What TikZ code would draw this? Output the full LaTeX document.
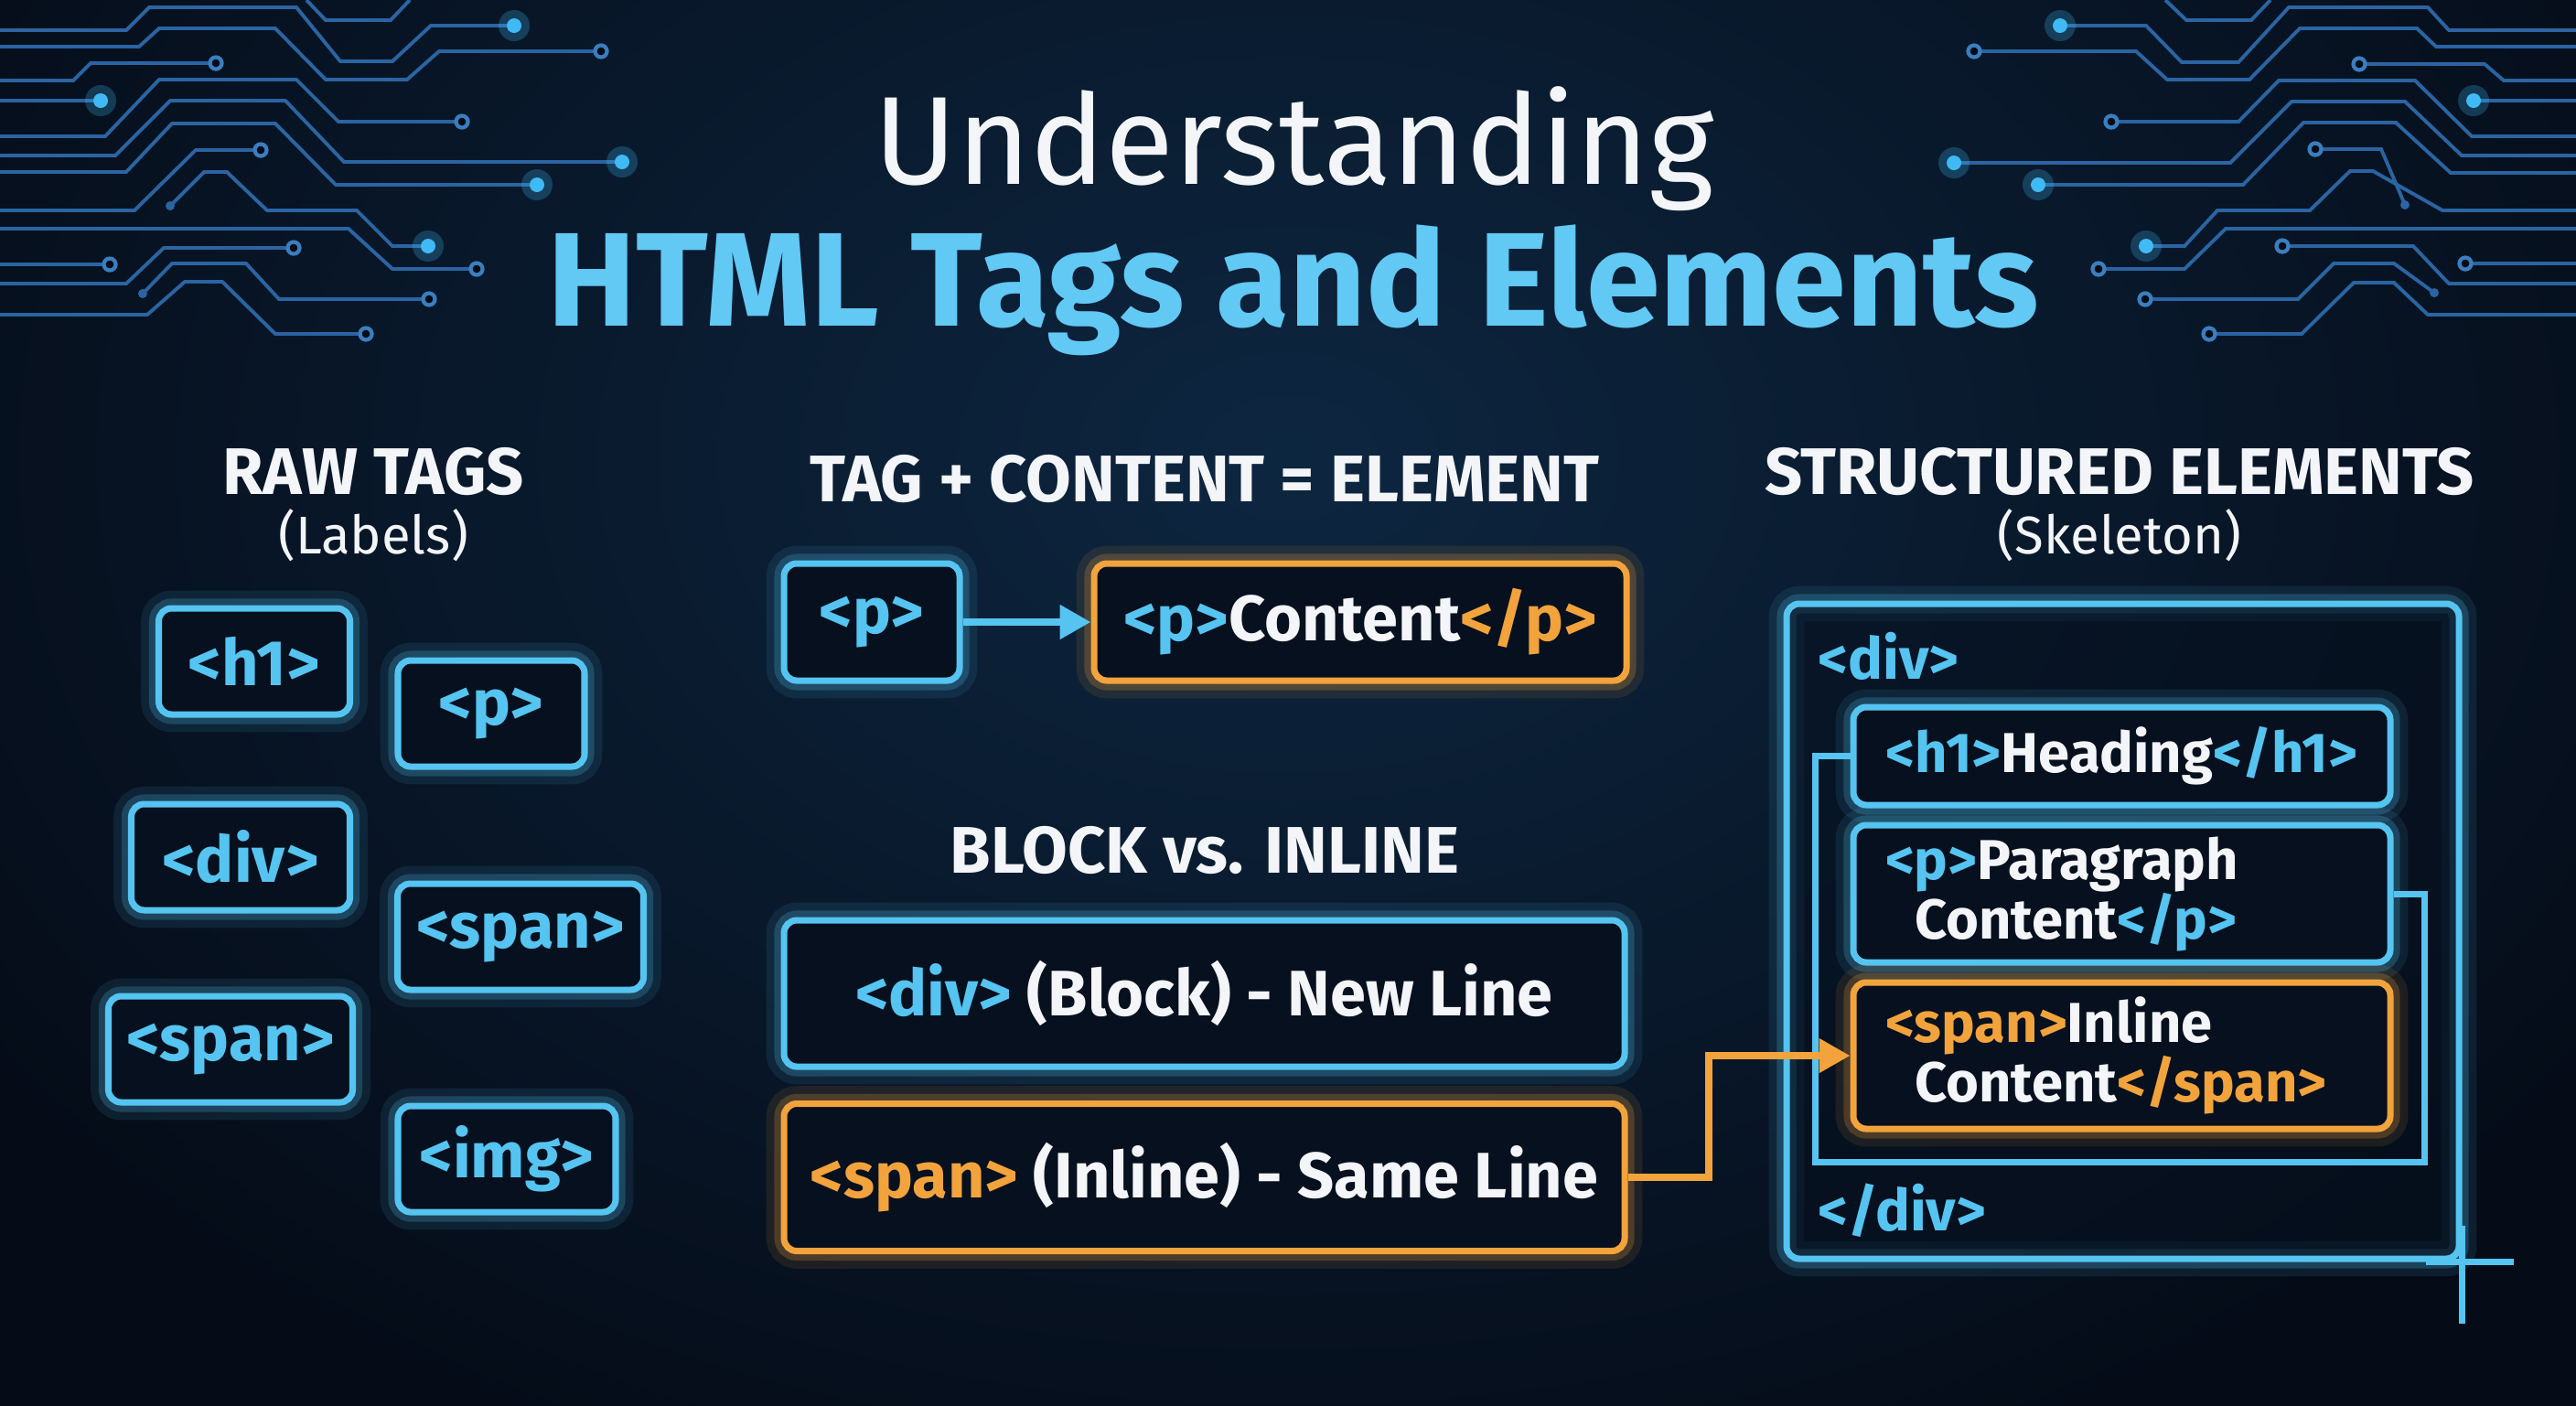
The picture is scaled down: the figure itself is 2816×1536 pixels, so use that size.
\documentclass[tikz,border=0pt]{standalone}
\usepackage{fontspec}
\setmainfont{Fira Sans}
\usetikzlibrary{arrows.meta}
\definecolor{night}{HTML}{050C18}
\definecolor{deep}{HTML}{0D2640}
\definecolor{boxbg}{HTML}{06101E}
\definecolor{trace}{HTML}{2A64A2}
\definecolor{ring}{HTML}{3A7EC0}
\definecolor{spark}{HTML}{3FBAF4}
\definecolor{tagblue}{HTML}{55C4F0}
\definecolor{titleblue}{HTML}{62C8F4}
\definecolor{tagorange}{HTML}{F2A33C}
\definecolor{ink}{HTML}{F3F5F8}
\newcommand\tagb[1]{\textcolor{tagblue}{#1}}
\newcommand\tago[1]{\textcolor{tagorange}{#1}}

\begin{document}
\begin{tikzpicture}[x=0.1mm, y=-0.1mm, >={Triangle[length=3.4mm, width=3.6mm]},
  trail/.style={draw=trace, line width=1.1pt},
  blueglow/.style={preaction={draw=tagblue, line width=11pt, opacity=0.10},
    preaction={draw=tagblue, line width=6pt, opacity=0.22}},
  warmglow/.style={preaction={draw=tagorange, line width=11pt, opacity=0.10},
    preaction={draw=tagorange, line width=6pt, opacity=0.22}},
  boxbase/.style={line width=2pt, rounded corners=1.4mm, fill=boxbg, text=ink,
    font=\bfseries\fontsize{20}{24}\selectfont},
  rawtag/.style={boxbase, blueglow, draw=tagblue, text=tagblue, minimum height=11.6mm},
  codebox/.style={boxbase, blueglow, draw=tagblue},
  warmbox/.style={boxbase, warmglow, draw=tagorange},
  nestbox/.style={boxbase, blueglow, draw=tagblue, inner xsep=3.5mm,
    font=\bfseries\fontsize{17.5}{18.5}\selectfont},
  warmnest/.style={boxbase, warmglow, draw=tagorange, inner xsep=3.5mm,
    font=\bfseries\fontsize{17.5}{18.5}\selectfont},
  heading/.style={text=ink, anchor=base, font=\bfseries\fontsize{20.5}{24}\selectfont},
  subheading/.style={text=ink, anchor=base, font=\fontsize{16.5}{20}\selectfont},
  tagtext/.style={text=tagblue, anchor=west, font=\bfseries\fontsize{18}{22}\selectfont},
  link/.style={draw=tagblue, line width=2pt},
  blueflow/.style={->, draw=tagblue, line width=2.3pt},
  warmflow/.style={->, draw=tagorange, line width=2.3pt}]

  \useasboundingbox (0,0) rectangle (2816,1536);
  % background
  \fill[night] (0,0) rectangle (2816,1536);
  \begin{scope}
    \clip (0,0) rectangle (2816,1536);
    \shade[inner color=deep, outer color=night] (-300,-700) rectangle (3116,1700);
  \end{scope}

  % circuit traces, left
  \draw[trail] (0,33) -- (138,33) -- (163,8) -- (324,8) -- (372,67) -- (429,67) -- (471,28) -- (562,28);
  \draw[trail] (0,51) -- (152,51) -- (174,31) -- (301,31) -- (356,87) -- (445,87) -- (480,56) -- (657,56);
  \draw[trail] (0,88) -- (80,88) -- (99,69) -- (236,69);
  \draw[trail] (0,110) -- (110,110);
  \draw[trail] (0,149) -- (115,149) -- (174,87) -- (324,87) -- (370,133) -- (505,133);
  \draw[trail] (0,170) -- (126,170) -- (186,110) -- (312,110) -- (376,177) -- (680,177);
  \draw[trail] (0,188) -- (138,188) -- (188,135) -- (301,135) -- (367,202) -- (587,202);
  \draw[trail] (0,230) -- (147,230) -- (214,164) -- (285,164);
  \draw[trail] (186,225) -- (223,188) -- (248,188) -- (292,230) -- (390,230) -- (429,269) -- (468,269);
  \draw[trail] (0,250) -- (381,250) -- (429,294) -- (521,294);
  \draw[trail] (0,289) -- (120,289);
  \draw[trail] (0,310) -- (138,310) -- (179,271) -- (321,271);
  \draw[trail] (156,321) -- (188,288) -- (269,288) -- (305,327) -- (469,327);
  \draw[trail] (0,344) -- (161,344) -- (202,308) -- (243,308) -- (301,365) -- (400,365);
  \draw[trail] (335,0) -- (356,22) -- (427,22) -- (448,0);
  % circuit traces, right
  \draw[trail] (2252,28) -- (2346,28) -- (2385,68) -- (2447,68) -- (2502,8) -- (2654,8) -- (2677,33) -- (2816,33);
  \draw[trail] (2158,56) -- (2335,56) -- (2369,87) -- (2459,87) -- (2514,31) -- (2642,31) -- (2663,51) -- (2816,51);
  \draw[trail] (2579,70) -- (2716,70) -- (2737,88) -- (2816,88);
  \draw[trail] (2704,110) -- (2816,110);
  \draw[trail] (2308,133) -- (2447,133) -- (2491,88) -- (2640,88) -- (2702,149) -- (2816,149);
  \draw[trail] (2136,178) -- (2438,178) -- (2505,111) -- (2629,111) -- (2691,170) -- (2816,170);
  \draw[trail] (2228,202) -- (2452,202) -- (2518,134) -- (2619,134) -- (2679,189) -- (2816,189);
  \draw[trail] (2531,163) -- (2603,163) -- (2629,224);
  \draw[trail] (2346,269) -- (2388,269) -- (2424,230) -- (2525,230) -- (2569,187) -- (2594,187) -- (2670,230) -- (2816,230);
  \draw[trail] (2294,294) -- (2388,294) -- (2433,250) -- (2816,250);
  \draw[trail] (2495,269) -- (2638,269) -- (2677,310) -- (2816,310);
  \draw[trail] (2695,288) -- (2816,288);
  \draw[trail] (2345,327) -- (2512,327) -- (2551,288) -- (2617,288) -- (2661,320);
  \draw[trail] (2415,365) -- (2516,365) -- (2573,309) -- (2617,309) -- (2654,344) -- (2816,344);
  \draw[trail] (2367,0) -- (2390,22) -- (2461,22) -- (2482,0);

  % trace ends
  \foreach \x/\y in {562/28, 110/110, 680/177, 587/202, 468/269, 2252/28, 2704/110, 2136/178, 2228/202, 2346/269} {
    \fill[spark, opacity=0.25] (\x,\y) circle[radius=1.7mm];
    \fill[spark] (\x,\y) circle[radius=0.8mm];
  }
  \foreach \x/\y in {657/56, 236/69, 505/133, 285/164, 521/294, 120/289, 321/271, 469/327, 400/365,
      2158/56, 2579/70, 2308/133, 2531/163, 2294/294, 2495/269, 2695/288, 2345/327, 2415/365}
    \draw[ring, line width=1.2pt, fill=night] (\x,\y) circle[radius=0.65mm];
  \foreach \x/\y in {186/225, 156/321, 2629/224, 2661/320}
    \fill[trace] (\x,\y) circle[radius=0.5mm];

  % title
  \node[text=ink, anchor=base, font=\fontsize{39}{44}\selectfont] (title) at (1415,201) {Understanding};
  \node[text=titleblue, anchor=base, font=\bfseries\fontsize{41.5}{46}\selectfont] (subtitle) at (1414,356) {HTML Tags and Elements};

  % column headings
  \node[heading] (rawhead) at (408,540) {RAW TAGS};
  \node[subheading] (rawsub) at (408,605) {(Labels)};
  \node[heading] (elemhead) at (1317,548) {TAG + CONTENT = ELEMENT};
  \node[heading] (structhead) at (2317,540) {STRUCTURED ELEMENTS};
  \node[subheading] (structsub) at (2317,605) {(Skeleton)};
  \node[heading] (blockhead) at (1317,954) {BLOCK vs. INLINE};

  % raw tags
  \node[rawtag, minimum width=20.9mm] (rh1) at (278,723) {<h1>};
  \node[rawtag, minimum width=20.4mm] (rp) at (537,780) {<p>};
  \node[rawtag, minimum width=23.9mm] (rdiv) at (263,937) {<div>};
  \node[rawtag, minimum width=26.9mm] (rspanb) at (569,1024) {<span>};
  \node[rawtag, minimum width=26.7mm] (rspana) at (252,1147) {<span>};
  \node[rawtag, minimum width=23.8mm] (rimg) at (554,1267) {<img>};

  % tag + content
  \node[rawtag, minimum width=19.2mm, minimum height=12.8mm] (cp) at (953,680) {<p>};
  \node[warmbox, minimum width=58.2mm, minimum height=12.8mm] (cpc) at (1487,680) {\tagb{<p>}Content\tago{</p>}};
  \draw[blueflow] (cp) -- (cpc);

  % block vs inline
  \node[codebox, minimum width=91.9mm, minimum height=16mm] (blk) at (1316.5,1086) {\tagb{<div>} (Block) - New Line};
  \node[warmbox, minimum width=91.9mm, minimum height=16.1mm] (inl) at (1316.5,1287) {\tago{<span>} (Inline) - Same Line};

  % skeleton
  \node[draw=tagblue, fill=boxbg, fill opacity=0.5, draw opacity=1, line width=2pt, rounded corners=1.4mm, blueglow,
    minimum width=73.5mm, minimum height=71.6mm] (skel) at (2320.5,1018) {};
  \draw[link] (skel.south east) ++(0,-40) -- ++(0,107);
  \draw[link] (skel.south east) ++(-40,0) -- ++(96,0);
  \node[tagtext] (opendiv) at (1975,717) {<div>};
  \node[tagtext] (closediv) at (1975,1323) {</div>};
  \coordinate (brk) at (2650,1270);
  \node[nestbox, minimum width=58.7mm, minimum height=10.7mm] (sh1) at (2319.5,826.5) {\tagb{<h1>}Heading\tagb{</h1>}};
  \node[nestbox, text width=51.7mm, align=left, minimum height=15mm] (sp) at (2319.5,977) {\tagb{<p>}Paragraph\\\hspace*{3.2mm}Content\tagb{</p>}};
  \node[warmnest, text width=51.7mm, align=left, minimum height=16mm] (ssp) at (2319.5,1154) {\tago{<span>}Inline\\\hspace*{3.2mm}Content\tago{</span>}};
  \draw[link] (sh1.west) -- ++(-38,0) |- (brk) |- (sp.east);
  \draw[warmflow] (inl.east) -- ++(88,0) |- (ssp.west);
\end{tikzpicture}
\end{document}
